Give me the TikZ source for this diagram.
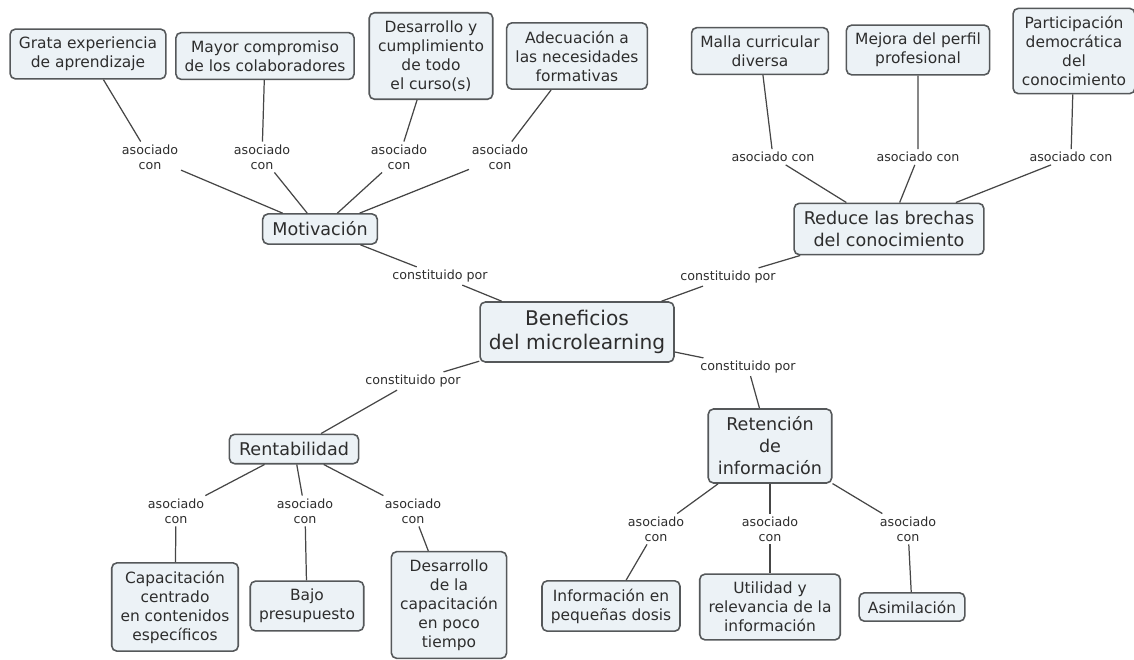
\documentclass[tikz,border=0pt]{standalone}
\usepackage{fontspec}
\setmainfont{DejaVu Sans}
\usetikzlibrary{positioning}
\definecolor{boxfill}{RGB}{236,242,246}
\definecolor{boxline}{RGB}{85,88,90}
\definecolor{edgeline}{RGB}{70,70,70}
\definecolor{inktext}{RGB}{45,45,45}

\begin{document}
\begin{tikzpicture}[
        x=0.02cm, y=-0.02cm,
        concept/.style={draw=boxline, fill=boxfill, rounded corners=3pt, line width=0.9pt, align=center,
            inner xsep=5pt, inner ysep=4.5pt, text=inktext, font=\fontsize{8.8}{10.8}\selectfont},
        midconcept/.style={concept, inner xsep=5.5pt, font=\fontsize{10}{12.5}\selectfont},
        mainconcept/.style={concept, inner xsep=5pt, inner ysep=4.5pt, font=\fontsize{11.5}{14}\selectfont},
        link/.style={align=center, inner sep=1.5pt, text=inktext, font=\fontsize{7.2}{8.6}\selectfont},
        edge/.style={draw=edgeline, line width=0.7pt},
    ]
    \useasboundingbox (0,0) rectangle (1134,660);

    % Root
    \node[mainconcept] (root) at (577,332) {Beneficios\\del microlearning};

    % === UPPER LEFT: Motivacion ===
    \node[midconcept] (motiv) at (320,229) {Motivación};
    \node[link] (cM) at (440,276) {constituido por};
    \draw[edge] (root) -- (cM) -- (motiv);

    \node[concept] (M1) at (88,54) {Grata experiencia\\de aprendizaje};
    \node[concept] (M2) at (265,56) {Mayor compromiso\\de los colaboradores};
    \node[concept] (M3) at (431,56) {Desarrollo y\\cumplimiento\\de todo\\el curso(s)};
    \node[concept] (M4) at (577,56) {Adecuación a\\las necesidades\\formativas};

    \node[link] (aM1) at (150,157) {asociado\\con};
    \node[link] (aM2) at (262,157) {asociado\\con};
    \node[link] (aM3) at (399,157) {asociado\\con};
    \node[link] (aM4) at (500,157) {asociado\\con};
    \draw[edge] (motiv) -- (aM1) -- (M1);
    \draw[edge] (motiv) -- (aM2) -- (M2);
    \draw[edge] (motiv) -- (aM3) -- (M3);
    \draw[edge] (motiv) -- (aM4) -- (M4);

    % === UPPER RIGHT: Reduce las brechas ===
    \node[midconcept] (brecha) at (889,229) {Reduce las brechas\\del conocimiento};
    \node[link] (cB) at (728,277) {constituido por};
    \draw[edge] (root) -- (cB) -- (brecha);

    \node[concept] (B1) at (760,51) {Malla curricular\\diversa};
    \node[concept] (B2) at (918,50) {Mejora del perfil\\profesional};
    \node[concept] (B3) at (1074,51) {Participación\\democrática\\del\\conocimiento};

    \node[link] (aB1) at (773,157) {asociado con};
    \node[link] (aB2) at (918,157) {asociado con};
    \node[link] (aB3) at (1071,157) {asociado con};
    \draw[edge] (brecha) -- (aB1) -- (B1);
    \draw[edge] (brecha) -- (aB2) -- (B2);
    \draw[edge] (brecha) -- (aB3) -- (B3);

    % === LOWER LEFT: Rentabilidad ===
    \node[midconcept] (renta) at (294,449) {Rentabilidad};
    \node[link] (cR) at (413,381) {constituido por};
    \draw[edge] (root) -- (cR) -- (renta);

    \node[concept] (R1) at (175,607) {Capacitación\\centrado\\en contenidos\\específicos};
    \node[concept] (R2) at (307,606) {Bajo\\presupuesto};
    \node[concept] (R3) at (449,605) {Desarrollo\\de la\\capacitación\\en poco\\tiempo};

    \node[link] (aR1) at (176,511) {asociado\\con};
    \node[link] (aR2) at (305,511) {asociado\\con};
    \node[link] (aR3) at (413,511) {asociado\\con};
    \draw[edge] (renta) -- (aR1) -- (R1);
    \draw[edge] (renta) -- (aR2) -- (R2);
    \draw[edge] (renta) -- (aR3) -- (R3);

    % === LOWER RIGHT: Retencion ===
    \node[midconcept] (reten) at (770,446) {Retención\\de\\información};
    \node[link] (cT) at (748,367) {constituido por};
    \draw[edge] (root) -- (cT) -- (reten);

    \node[concept] (T1) at (611,606) {Información en\\pequeñas dosis};
    \node[concept] (T2) at (770,607) {Utilidad y\\relevancia de la\\información};
    \node[concept] (T3) at (912,607) {Asimilación};

    \node[link] (aT1) at (656,529) {asociado\\con};
    \node[link] (aT2) at (770,529) {asociado\\con};
    \node[link] (aT3) at (908,529) {asociado\\con};
    \draw[edge] (reten) -- (aT1) -- (T1);
    \draw[edge] (reten) -- (aT2) -- (T2);
    \draw[edge] (reten) -- (aT3) -- (T3);

\end{tikzpicture}
\end{document}
